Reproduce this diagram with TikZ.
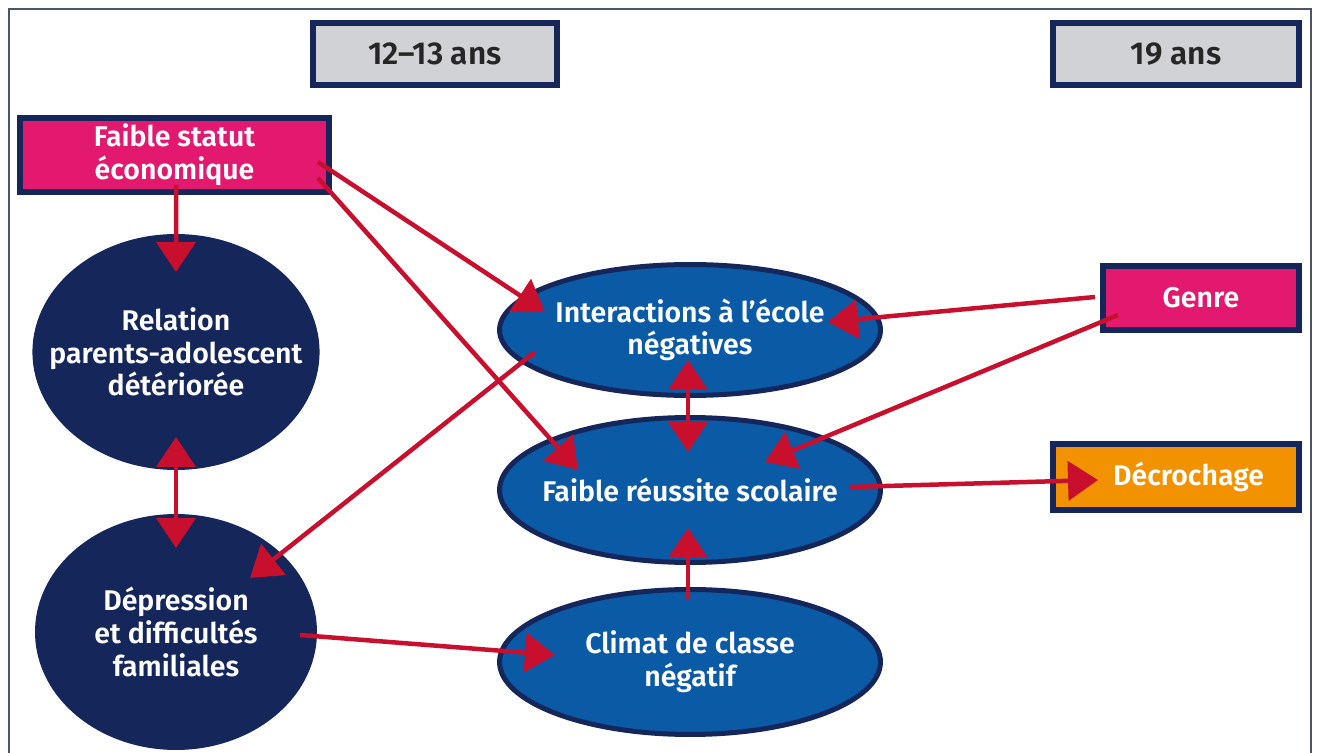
\documentclass[tikz,border=0pt]{standalone}
\usepackage{fontspec}
\setmainfont{Fira Sans}[BoldFont={Fira Sans SemiBold}]
\usetikzlibrary{shapes.geometric,arrows.meta}

\definecolor{navy}{HTML}{15265A}
\definecolor{midblue}{HTML}{0B5AA6}
\definecolor{rosy}{HTML}{E2196F}
\definecolor{amber}{HTML}{F39200}
\definecolor{pale}{HTML}{D1D2D5}
\definecolor{crimson}{HTML}{C8102E}
\definecolor{framegray}{HTML}{4B5566}

\begin{document}
\begin{tikzpicture}[x=0.02cm, y=-0.02cm,
    every node/.style={font=\fontsize{16.2}{18.6}\selectfont\bfseries, align=center, inner sep=0pt},
    agebox/.style={draw=navy, line width=0.12cm, fill=pale, text=black!85,
      font=\fontsize{18}{20}\selectfont\bfseries, minimum width=4.88cm, minimum height=1.24cm},
    factor/.style={draw=navy, line width=0.12cm, fill=#1, text=white},
    disc/.style={ellipse, fill=navy, text=white, inner xsep=-0.5cm,
      minimum width=5.64cm, minimum height=4.72cm},
    oval/.style={ellipse, draw=navy, line width=0.1cm, fill=midblue, text=white,
      inner xsep=-0.3cm, minimum width=7.62cm, minimum height=#1},
    >={Triangle[length=0.6cm, width=0.78cm]},
    link/.style={crimson, line width=0.09cm, ->},
    both/.style={crimson, line width=0.09cm, <->}]

  \useasboundingbox (0,0) rectangle (1320,753);
  \fill[white] (0,0) rectangle (1320,753);
  \draw[framegray, line width=0.05cm] (9,9) rectangle (1311,800);

  \node[agebox] (age1) at (435,54) {12–13 ans};
  \node[agebox, minimum width=4.92cm] (age2) at (1176,54) {19 ans};

  \node[factor=rosy, minimum width=6.18cm, minimum height=1.48cm] (fse) at (174.5,155) {Faible statut\\économique};
  \node[factor=rosy, minimum width=3.94cm, minimum height=1.28cm] (genre) at (1201,298) {Genre};
  \node[factor=amber, minimum width=4.92cm, minimum height=1.32cm] (decro) at (1176,477) {\hspace*{0.5cm}Décrochage};

  \node[disc] (rel) at (176,352) {Relation\\parents-adolescent\\détériorée};
  \node[disc] (dep) at (176,632) {Dépression\\et difficultés\\familiales};

  \node[oval=2.62cm] (int) at (690,330) {Interactions à l’école\\négatives};
  \node[oval=2.9cm] (reu) at (690,490) {Faible réussite scolaire};
  \node[oval=2.9cm] (cli) at (690,662) {Climat de classe\\négatif};

  \draw[link] ([shift={(1.5,30)}]fse.center) -- ([shift={(0,-80)}]rel.center);
  \draw[link] ([shift={(143.5,7)}]fse.center) -- ([shift={(-145,-18)}]int.center);
  \draw[link] ([shift={(143.5,23)}]fse.center) -- ([shift={(-112,-20)}]reu.center);
  \draw[both] ([shift={(0,85)}]rel.center) -- ([shift={(0,-84)}]dep.center);
  \draw[link] ([shift={(-155,22)}]int.center) -- ([shift={(74,-54)}]dep.center);
  \draw[link] ([shift={(-106,-1)}]genre.center) -- ([shift={(138,-8)}]int.center);
  \draw[link] ([shift={(-83,17)}]genre.center) -- ([shift={(75,-28)}]reu.center);
  \draw[both] ([shift={(-2,30)}]int.center) -- ([shift={(-2,-38)}]reu.center);
  \draw[link] ([shift={(160,-3)}]reu.center) -- ([shift={(-78,3)}]decro.center);
  \draw[link] ([shift={(-2,-62)}]cli.center) -- ([shift={(-2,38)}]reu.center);
  \draw[link] ([shift={(124,3)}]dep.center) -- ([shift={(-135,-7)}]cli.center);
\end{tikzpicture}
\end{document}
